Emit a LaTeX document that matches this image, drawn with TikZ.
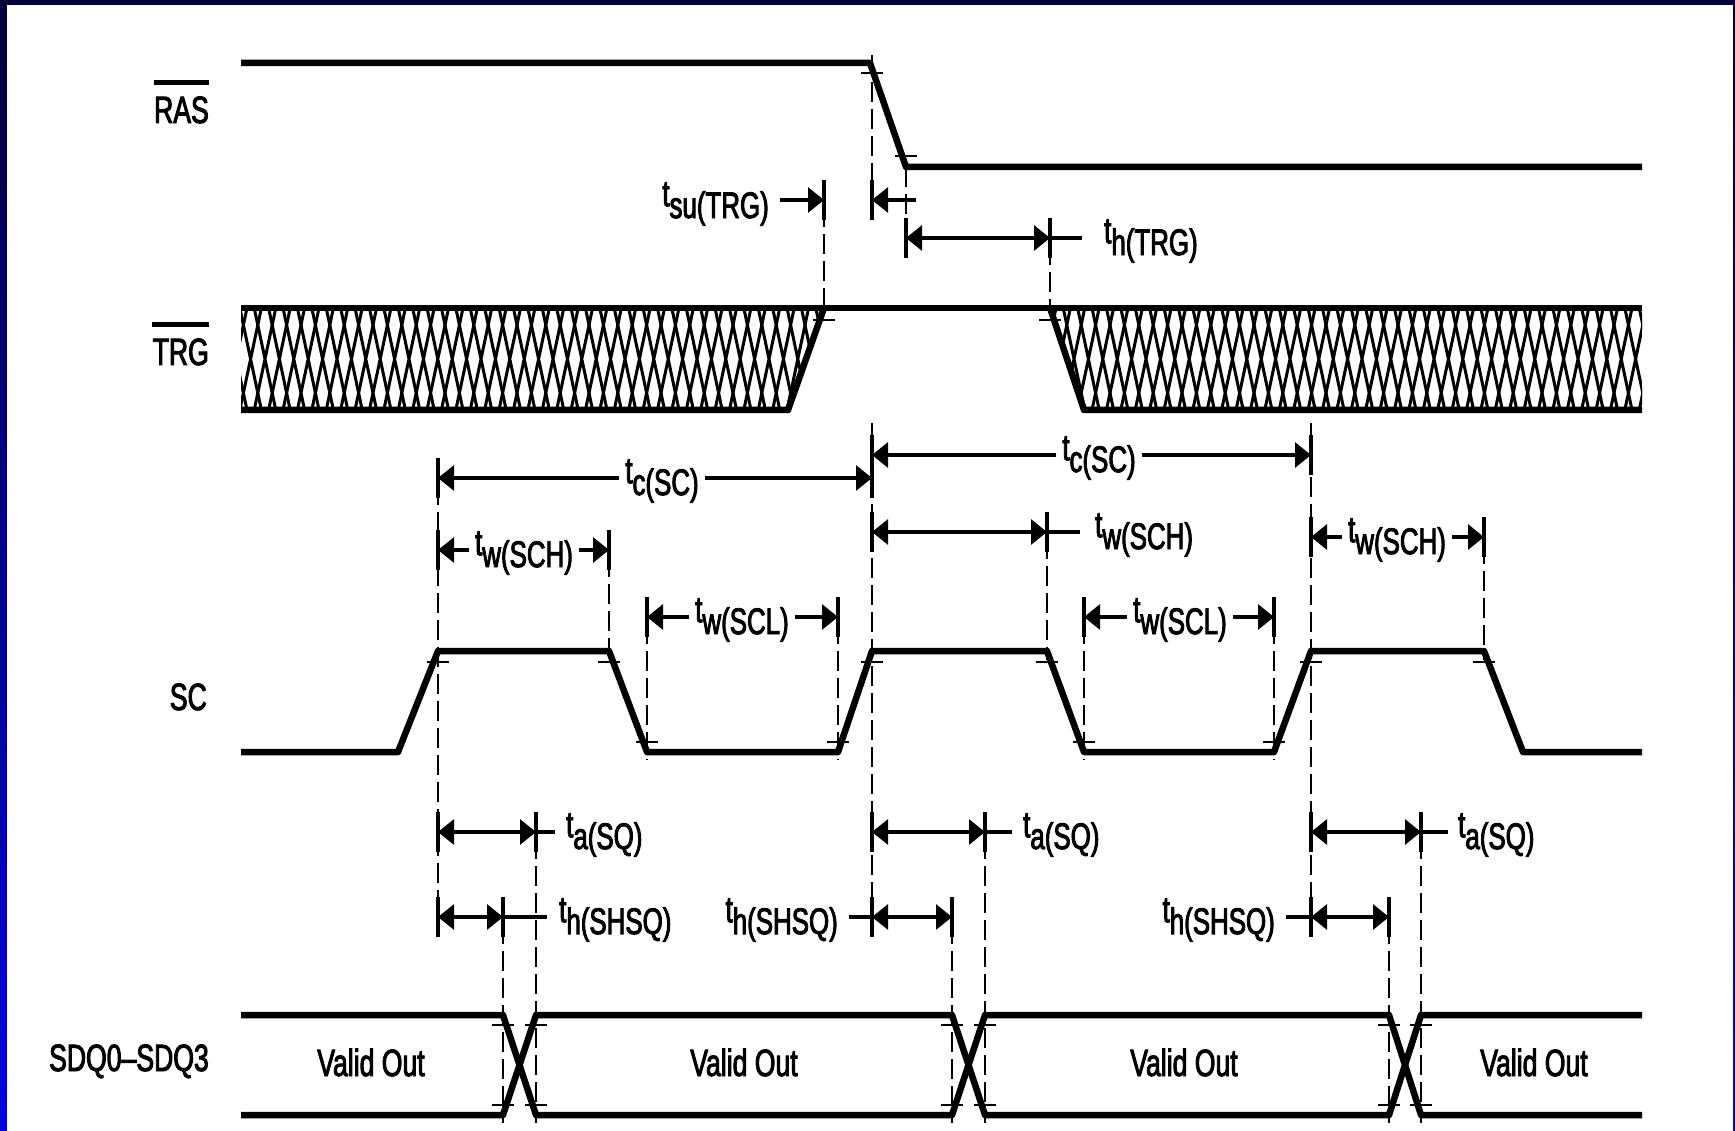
\documentclass[tikz,border=0pt]{standalone}
\usepackage{fontspec}
\usepackage{tikz}
\usetikzlibrary{arrows.meta}
\newfontfamily\tdfont{Liberation Sans}[FakeStretch=0.7,FakeBold=2.4]
\definecolor{framenavy}{RGB}{0,0,55}
\definecolor{frameblue}{RGB}{0,0,230}
\newcommand{\tsub}[2]{t\raisebox{-0.32em}{#1(#2)}}
\newcommand{\edgetick}[2]{\draw[tickline] (#1-11,#2) -- (#1+11,#2);}
\newcommand{\refline}[3]{\draw[refdash] (#1,#2) -- (#1,#3);}
\newcommand{\dimbar}[2]{\draw[dimline] (#1,#2-20) -- (#1,#2+20);}
\newcommand{\dimarrow}[3]{\draw[dimline,twoheads] (#2,#1) -- (#3,#1); \dimbar{#2}{#1} \dimbar{#3}{#1}}
\newcommand{\stub}[3]{\draw[dimline] (#2,#1) -- (#3,#1);}
\newcommand{\hatchband}[4]{\begin{scope} \clip (#1,308) -- (#2,308) -- (#3,410) -- (#4,410) -- cycle; \foreach \k in {0,...,46} {\draw[hatchline] (#1-30+14.4*\k,308) -- (#1-8.4+14.4*\k,410) (#1-8.4+14.4*\k,308) -- (#1-30+14.4*\k,410);} \end{scope}}

\begin{document}
\begin{tikzpicture}[x=1pt,y=-1pt,
    sigline/.style={line width=6.5pt,line join=round},
    hatchline/.style={line width=3pt},
    refdash/.style={line width=2.3pt,dash pattern=on 20pt off 7pt},
    dimline/.style={line width=3.2pt},
    tickline/.style={line width=2.5pt},
    overbar/.style={line width=5pt},
    twoheads/.style={{Triangle[length=16pt,width=25pt]}-{Triangle[length=16pt,width=25pt]}},
    onehead/.style={-{Triangle[length=16pt,width=25pt]}},
    siglabel/.style={font=\tdfont\fontsize{38}{40}\selectfont,inner sep=0pt,anchor=base east},
    tlabel/.style={font=\tdfont\fontsize{37}{40}\selectfont,inner sep=0pt},
    midlabel/.style={tlabel,fill=white,inner xsep=6pt,inner ysep=2pt}]
    \useasboundingbox (0,0) rectangle (1735,1131);
    \shade[top color=framenavy,bottom color=frameblue] (0,0) rectangle (1735,1131);
    \fill[white] (7,5) rectangle (1733,1131);

    \node[siglabel] (ras) at (209,123) {RAS};
    \draw[overbar] (ras.west |- 0,83) -- (ras.east |- 0,83);
    \node[siglabel] (trg) at (209,365) {TRG};
    \draw[overbar] (trg.west |- 0,325) -- (trg.east |- 0,325);
    \node[siglabel] (sc) at (207,710) {SC};
    \node[siglabel] (sdq) at (209,1071) {SDQ0–SDQ3};

    \draw[sigline] (241,63) -- (870,63) -- (906,167) -- (1642,167);
    \edgetick{872}{73};
    \edgetick{906}{156};
    \refline{872}{55}{220};
    \refline{906}{167}{258};
    \refline{824}{180}{308};
    \refline{1050}{218}{308};
    \draw[dimline,onehead] (780,200) -- (824,200);
    \draw[dimline,onehead] (916,200) -- (872,200);
    \dimbar{824}{200};
    \dimbar{872}{200};
    \node[tlabel,anchor=east] (tsu) at (769,204) {\tsub{su}{TRG}};
    \dimarrow{238}{906}{1050};
    \stub{238}{1050}{1082};
    \node[tlabel,anchor=west] (thtrg) at (1104,241) {\tsub{h}{TRG}};

    \hatchband{241}{824}{788}{241};
    \hatchband{1050}{1642}{1642}{1084};
    \draw[sigline] (241,308) -- (1642,308);
    \draw[sigline] (241,410) -- (788,410) -- (824,308);
    \draw[sigline] (1050,308) -- (1084,410) -- (1642,410);
    \edgetick{824}{320};
    \edgetick{1050}{320};

    \draw[sigline] (241,752) -- (398,752) -- (438,651) -- (609,651) -- (647,752) -- (838,752) -- (872,651) -- (1047,651) -- (1084,752) -- (1274,752) -- (1311,651) -- (1484,651) -- (1523,752) -- (1642,752);
    \edgetick{438}{662};
    \edgetick{609}{662};
    \edgetick{647}{742};
    \edgetick{838}{742};
    \edgetick{872}{662};
    \edgetick{1047}{662};
    \edgetick{1084}{742};
    \edgetick{1274}{742};
    \edgetick{1311}{662};
    \edgetick{1484}{662};
    \refline{438}{458}{937};
    \refline{609}{530}{660};
    \refline{647}{597}{760};
    \refline{838}{597}{760};
    \refline{872}{423}{937};
    \refline{1047}{512}{660};
    \refline{1084}{597}{760};
    \refline{1274}{597}{760};
    \refline{1311}{423}{937};
    \refline{1484}{517}{660};

    \dimarrow{478}{438}{872};
    \dimarrow{455}{872}{1311};
    \dimarrow{550}{438}{609};
    \dimarrow{617}{647}{838};
    \dimarrow{532}{872}{1047};
    \stub{532}{1047}{1080};
    \dimarrow{617}{1084}{1274};
    \dimarrow{537}{1311}{1484};
    \node[midlabel] (tc1) at (662,481) {\tsub{c}{SC}};
    \node[midlabel] (tc2) at (1099,458) {\tsub{c}{SC}};
    \node[midlabel] (tw1) at (524,553) {\tsub{w}{SCH}};
    \node[midlabel] (tl1) at (742,620) {\tsub{w}{SCL}};
    \node[tlabel,anchor=west] (tw2) at (1095,535) {\tsub{w}{SCH}};
    \node[midlabel] (tl2) at (1180,620) {\tsub{w}{SCL}};
    \node[midlabel] (tw3) at (1397,540) {\tsub{w}{SCH}};

    \dimarrow{832}{438}{536};
    \stub{832}{536}{555};
    \dimarrow{832}{872}{985};
    \stub{832}{985}{1012};
    \dimarrow{832}{1311}{1421};
    \stub{832}{1421}{1448};
    \dimarrow{917}{438}{503};
    \stub{917}{503}{547};
    \dimarrow{917}{872}{952};
    \stub{917}{849}{872};
    \dimarrow{917}{1311}{1389};
    \stub{917}{1286}{1311};
    \node[tlabel,anchor=west] (ta1) at (566,835) {\tsub{a}{SQ}};
    \node[tlabel,anchor=west] (ta2) at (1023,835) {\tsub{a}{SQ}};
    \node[tlabel,anchor=west] (ta3) at (1458,835) {\tsub{a}{SQ}};
    \node[tlabel,anchor=west] (th1) at (559,920) {\tsub{h}{SHSQ}};
    \node[tlabel,anchor=east] (th2) at (838,920) {\tsub{h}{SHSQ}};
    \node[tlabel,anchor=east] (th3) at (1275,920) {\tsub{h}{SHSQ}};

    \draw[sigline] (241,1015) -- (503,1015) -- (536,1115) -- (952,1115) -- (985,1015) -- (1389,1015) -- (1421,1115) -- (1642,1115);
    \draw[sigline] (241,1115) -- (503,1115) -- (536,1015) -- (952,1015) -- (985,1115) -- (1389,1115) -- (1421,1015) -- (1642,1015);
    \foreach \x in {503,536,952,985,1389,1421} {\edgetick{\x}{1025} \edgetick{\x}{1105}}
    \refline{503}{897}{1123};
    \refline{536}{812}{1123};
    \refline{952}{897}{1123};
    \refline{985}{812}{1123};
    \refline{1389}{897}{1123};
    \refline{1421}{812}{1123};
    \node[siglabel,anchor=base] (v1) at (371,1076) {Valid Out};
    \node[siglabel,anchor=base] (v2) at (744,1076) {Valid Out};
    \node[siglabel,anchor=base] (v3) at (1184,1076) {Valid Out};
    \node[siglabel,anchor=base] (v4) at (1534,1076) {Valid Out};
\end{tikzpicture}
\end{document}
